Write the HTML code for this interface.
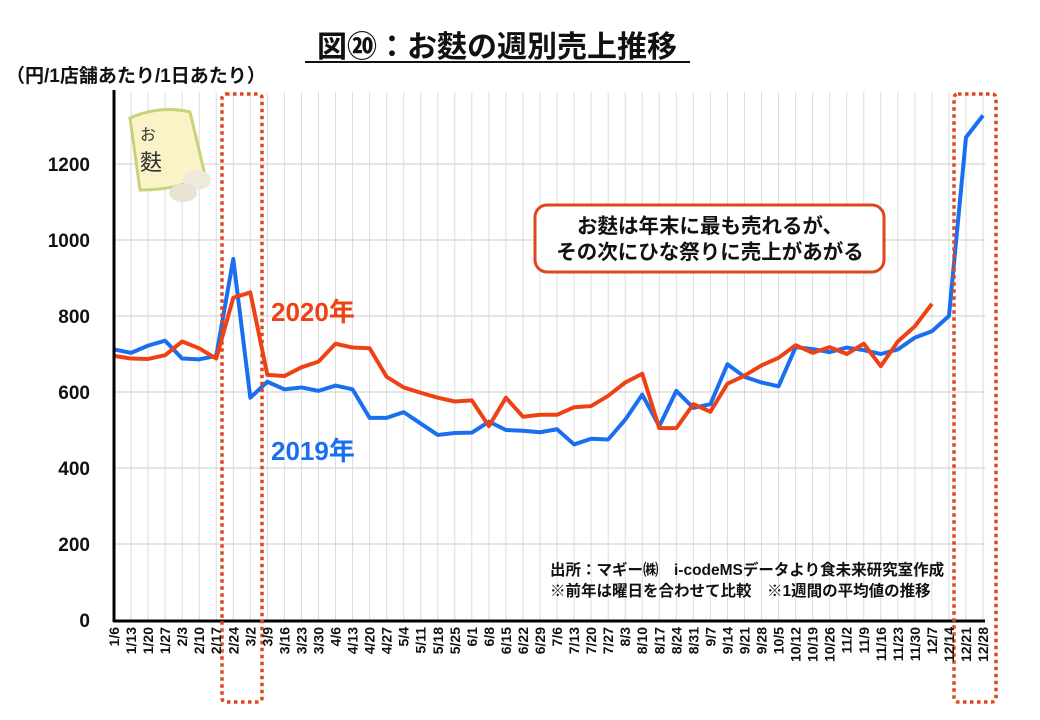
<!DOCTYPE html>
<html><head><meta charset="utf-8"><style>
body{margin:0;background:#fff;}
svg{display:block;font-family:"Liberation Sans","Noto Sans CJK JP",sans-serif;}
</style></head><body>
<svg id="s" width="1040" height="720" xmlns="http://www.w3.org/2000/svg">
<text x="497" y="57" text-anchor="middle" font-size="30" font-weight="bold" fill="#111">図⑳：お麩の週別売上推移</text>
<line x1="305" y1="62" x2="690" y2="62" stroke="#111" stroke-width="2"/>
<text x="6" y="82" font-size="19" font-weight="bold" fill="#111">（円/1店舗あたり/1日あたり）</text>
<g id="grid"></g>
<g font-size="19" font-weight="bold" fill="#111" text-anchor="end">
<text x="90" y="171">1200</text><text x="90" y="247">1000</text><text x="90" y="323">800</text>
<text x="90" y="399">600</text><text x="90" y="475">400</text><text x="90" y="551">200</text><text x="90" y="627">0</text>
</g>
<g>
<path d="M130 118 Q160 105 190 112 L205 175 Q180 190 140 190 Z" fill="#fbf3c8" stroke="#c9d27a" stroke-width="3"/>
<text x="140" y="140" font-size="16" fill="#333">お</text><text x="140" y="170" font-size="22" fill="#333">麩</text>
<ellipse cx="197" cy="180" rx="14" ry="10" fill="#eeeadb"/><ellipse cx="183" cy="193" rx="14" ry="9" fill="#e8e4d4"/>
</g>
<polyline id="blue" fill="none" stroke="#1a6ff0" stroke-width="4" stroke-linejoin="round"/>
<polyline id="red" fill="none" stroke="#ee4216" stroke-width="4" stroke-linejoin="round"/>
<line x1="114" y1="90" x2="114" y2="622" stroke="#000" stroke-width="3"/>
<line x1="113" y1="621" x2="985" y2="621" stroke="#000" stroke-width="3"/>
<rect x="222" y="94" width="40" height="608" rx="4" fill="none" stroke="#e0461c" stroke-width="3.5" stroke-dasharray="3.5 3.5"/>
<rect x="954" y="94" width="42" height="608" rx="4" fill="none" stroke="#e0461c" stroke-width="3.5" stroke-dasharray="3.5 3.5"/>
<text x="271" y="321" font-size="26" font-weight="bold" fill="#ee4216">2020年</text>
<text x="271" y="460" font-size="26" font-weight="bold" fill="#1a6ff0">2019年</text>
<rect x="535" y="205" width="349" height="67" rx="12" fill="#fff" stroke="#e0461c" stroke-width="3"/>
<text x="710" y="233" text-anchor="middle" font-size="20.5" font-weight="bold" fill="#111">お麩は年末に最も売れるが、</text>
<text x="710" y="259" text-anchor="middle" font-size="20.5" font-weight="bold" fill="#111">その次にひな祭りに売上があがる</text>
<text x="550" y="575" font-size="15.5" font-weight="bold" fill="#111">出所：マギー㈱　i-codeMSデータより食未来研究室作成</text>
<text x="550" y="596" font-size="15.5" font-weight="bold" fill="#111">※前年は曜日を合わせて比較　※1週間の平均値の推移</text>
<g id="xl" font-size="14" font-weight="bold" fill="#111"></g>
</svg>
<script>
var b=[712,703,722,735,688,686,695,950,585,627,607,612,603,617,607,532,532,547,517,487,492,493,522,500,498,494,502,462,477,475,527,593,510,603,558,568,673,640,625,615,718,713,705,717,710,700,712,743,760,800,1270,1328];
var r=[695,688,687,697,733,715,688,848,862,645,642,665,680,727,717,715,640,612,598,585,575,578,510,585,535,540,540,560,563,590,625,648,505,505,568,548,622,643,670,690,723,703,718,700,727,668,733,773,832];
var L="1/6,1/13,1/20,1/27,2/3,2/10,2/17,2/24,3/2,3/9,3/16,3/23,3/30,4/6,4/13,4/20,4/27,5/4,5/11,5/18,5/25,6/1,6/8,6/15,6/22,6/29,7/6,7/13,7/20,7/27,8/3,8/10,8/17,8/24,8/31,9/7,9/14,9/21,9/28,10/5,10/12,10/19,10/26,11/2,11/9,11/16,11/23,11/30,12/7,12/14,12/21,12/28".split(",");
function X(i){return 114+i*17.04;}function Y(v){return 620-0.38*v;}
document.getElementById("blue").setAttribute("points",b.map(function(v,i){return X(i)+","+Y(v)}).join(" "));
document.getElementById("red").setAttribute("points",r.map(function(v,i){return X(i)+","+Y(v)}).join(" "));
var g=document.getElementById("grid"),h="";
for(var i=1;i<52;i++)h+='<line x1="'+X(i)+'" y1="92" x2="'+X(i)+'" y2="620" stroke="#dcdcdc" stroke-width="1"/>';
for(var k=1;k<=6;k++)h+='<line x1="114" y1="'+Y(k*200)+'" x2="985" y2="'+Y(k*200)+'" stroke="#d6d6d6" stroke-width="1.2"/>';
g.innerHTML=h;
var xl=document.getElementById("xl"),t="";
for(var i=0;i<52;i++){var x=X(i)+5;t+='<text transform="translate('+x+',627) rotate(-90)" text-anchor="end">'+L[i]+'</text>';}
xl.innerHTML=t;
</script>
</body></html>
